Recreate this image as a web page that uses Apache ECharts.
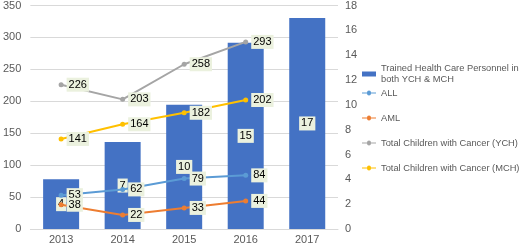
<!DOCTYPE html>
<html>
<head>
<meta charset="utf-8">
<script src="https://cdn.jsdelivr.net/npm/echarts@6/dist/echarts.min.js"></script>
<style>
html, body { margin: 0; padding: 0; background: #fff; }
#chart { width: 520px; height: 245px; }
</style>
</head>
<body>
<div id="chart"></div>
<script>
// data
var years = ['2013', '2014', '2015', '2016', '2017'];
var trained = [4, 7, 10, 15, 17];          // right axis
var allCases = [53, 62, 79, 84, null];
var amlCases = [38, 22, 33, 44, null];
var ychTotal = [226, 203, 258, 293, null];
var mchTotal = [141, 164, 182, 202, null];

var barName = 'Trained Health Care Personnel in\nboth YCH & MCH';
var lineNames = ['ALL', 'AML', 'Total Children with Cancer (YCH)', 'Total Children with Cancer (MCH)'];

// little line-with-dot legend marker
var lineIcon = 'path://M0,2L5,2A2,2 0 0 1 9,2L14,2L14,3L9,3A2,2 0 0 1 5,3L0,3Z';

var labelBox = {
    show: true,
    color: '#000',
    fontSize: 11,
    fontFamily: 'Liberation Sans',
    backgroundColor: '#EBF1DE',
    padding: [2, 2, 1, 2]
};

function lineSeries(name, data, color){
    return {
        name: name,
        type: 'line',
        yAxisIndex: 0,
        data: data,
        symbol: 'circle',
        symbolSize: 5,
        lineStyle: { color: color, width: 2 },
        itemStyle: { color: color },
        label: Object.assign({ position: 'right', distance: 3 }, labelBox),
        z: 3
    };
}

var dom = document.getElementById('chart');
var myChart = echarts.init(dom);
myChart.setOption({
    animation: false,
    grid: { left: 23, right: 182, top: 4, bottom: 14 },
    textStyle: { fontFamily: 'Liberation Sans' },
    legend: [
        {
            orient: 'vertical',
            left: 362,
            top: 63,
            padding: 0,
            itemWidth: 14,
            itemHeight: 5,
            itemGap: 4,
            textStyle: { color: '#595959', fontSize: 9.3, lineHeight: 11 },
            data: [{ name: barName, icon: 'rect' }]
        },
        {
            orient: 'vertical',
            left: 362,
            top: 87,
            padding: 0,
            itemWidth: 14,
            itemHeight: 5,
            itemGap: 13,
            textStyle: { color: '#595959', fontSize: 9.3, lineHeight: 12 },
            data: lineNames.map(function(n){ return { name: n, icon: lineIcon }; })
        }
    ],
    xAxis: {
        type: 'category',
        data: years,
        axisLine: { show: true, lineStyle: { color: '#D9D9D9' } },
        axisTick: { show: false },
        axisLabel: { color: '#595959', fontSize: 11, margin: 5 }
    },
    yAxis: [
        {
            type: 'value',
            min: 0, max: 350, interval: 50,
            axisLine: { show: false },
            axisTick: { show: false },
            axisLabel: { color: '#595959', fontSize: 11, margin: 9 },
            splitLine: { lineStyle: { color: '#D9D9D9' } }
        },
        {
            type: 'value',
            min: 0, max: 18, interval: 2,
            axisLine: { show: false },
            axisTick: { show: false },
            axisLabel: { color: '#595959', fontSize: 11, margin: 7 },
            splitLine: { show: false }
        }
    ],
    series: [
        {
            name: barName,
            type: 'bar',
            yAxisIndex: 1,
            data: trained,
            barWidth: 36,
            itemStyle: { color: '#4472C4' },
            label: Object.assign({ position: 'inside' }, labelBox),
            z: 2
        },
        lineSeries(lineNames[0], allCases, '#5B9BD5'),
        lineSeries(lineNames[1], amlCases, '#ED7D31'),
        lineSeries(lineNames[2], ychTotal, '#A5A5A5'),
        lineSeries(lineNames[3], mchTotal, '#FFC000')
    ]
});
window.addEventListener('resize', function(){
    myChart.resize();
});
</script>
</body>
</html>
